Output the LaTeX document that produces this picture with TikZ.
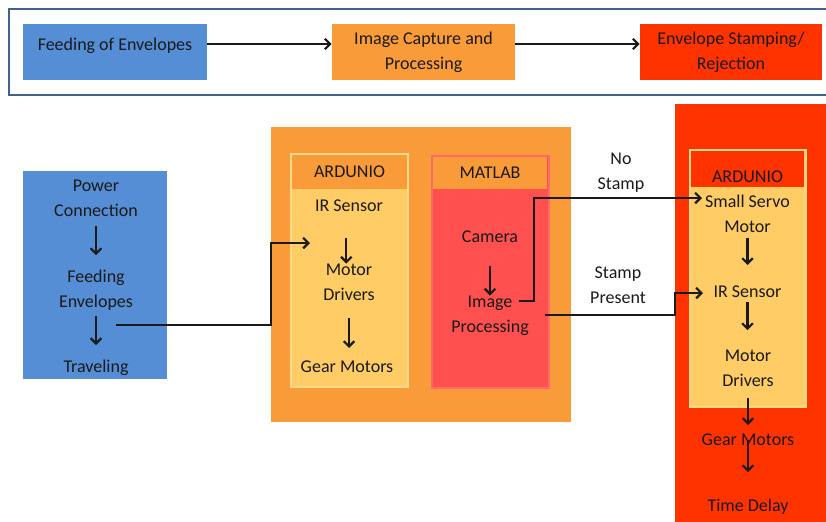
\documentclass[tikz,border=0pt]{standalone}
\usepackage{fontspec}
\setmainfont{Carlito}
\usetikzlibrary{arrows.meta}
\definecolor{cblue}{HTML}{558ED5}
\definecolor{corange}{HTML}{F99B38}
\definecolor{cred}{HTML}{FF3300}
\definecolor{cmat}{HTML}{FF5050}
\definecolor{cmatb}{HTML}{FF6A6A}
\definecolor{cyel}{HTML}{FFCC66}
\definecolor{cyelb}{HTML}{FFD98A}
\definecolor{cframe}{HTML}{44618E}
\definecolor{ctext}{HTML}{1A1A1A}
\begin{document}
\begin{tikzpicture}[x=0.75pt,y=-0.75pt,
  font=\fontsize{13.5}{18.75}\selectfont,
  sz/.style 2 args={minimum width=#1*0.75pt, minimum height=#2*0.75pt},
  box/.style={draw=none, inner sep=0pt, align=center, text=ctext},
  txt/.style={inner sep=0pt, align=center, text=ctext},
  arr/.style={line width=1.6pt, draw=ctext, -{Straight Barb[length=4pt,width=8pt]}}]
\useasboundingbox (0,0) rectangle (826,522);
\clip (0,0) rectangle (826,522);
% top row
\node[draw=cframe, line width=1.5pt, sz={823}{86}] (frame) at (420.5,52) {};
\node[box, fill=cblue, sz={184}{56}, text height=8.7pt, text depth=10.5pt] (f1) at (115,52) {Feeding of Envelopes};
\node[box, fill=corange, sz={183}{56}] (f2) at (423.5,52) {Image Capture and\\Processing};
\node[box, fill=cred, sz={182}{56}] (f3) at (731,52) {Envelope Stamping/\\Rejection};
\draw[arr] ([yshift=6pt]f1.east) -- ([yshift=6pt]f2.west);
\draw[arr] ([yshift=6pt]f2.east) -- ([yshift=6pt]f3.west);
% containers
\node[box, fill=cblue, sz={144}{208}] (blue) at (95,275) {};
\node[box, fill=corange, sz={300}{295}] (big) at (421,274.5) {};
\node[box, fill=cyel, draw=cyelb, line width=1.5pt, sz={117}{233}] (ard1) at (349.5,270.5) {};
\node[box, fill=corange, sz={115}{34}] (h1) at (349.5,172) {ARDUNIO};
\node[box, fill=cmat, draw=cmatb, line width=1.5pt, sz={117}{232}] (mat) at (490,272) {};
\node[box, fill=corange, sz={114}{32}] (h2) at (490,173) {MATLAB};
\node[box, fill=cred, sz={160}{430}] (rr) at (755,319) {};
\node[box, fill=cyel, draw=cyelb, line width=1.5pt, sz={116}{257}] (ard2) at (747.5,278) {};
\node[box, fill=cred, sz={113}{36}, text height=20.7pt, text depth=0pt] (h3) at (747.5,169) {ARDUNIO};
% blue texts
\node[txt] (pc) at (96,198.2) {Power\\Connection};
\node[txt] (fe) at (96,290.1) {Feeding\\Envelopes};
\node[txt] (tr) at (96,367.6) {Traveling};
\draw[arr, shorten <=6.8pt, shorten >=10.9pt] (pc.south) -- (fe.north);
\draw[arr, shorten <=4pt, shorten >=10.9pt] (fe.south) -- (tr.north);
% left arduino
\node[txt] (irs1) at (349,205.7) {IR Sensor};
\node[txt] (md1) at (349,282.2) {Motor\\Drivers};
\node[txt] (gm1) at (347,366.7) {Gear Motors};
\draw[arr, shorten <=19.6pt] ([xshift=-2pt]irs1.south) -- ([xshift=-2pt]md1.north);
\draw[arr, shorten <=12.8pt, shorten >=9.4pt] (md1.south) -- (md1.south |- gm1.north);
% matlab
\node[txt] (cam) at (490,236.7) {Camera};
\node[txt] (imp) at (490,315.6) {Image\\Processing};
\draw[arr, shorten <=17.3pt] (cam.south) -- (imp.north);
% right arduino
\node[txt] (ss) at (747.5,213.7) {Small Servo\\Motor};
\node[txt] (irs2) at (747.5,291.7) {IR Sensor};
\node[txt] (md2) at (748,368.2) {Motor\\Drivers};
\node[txt] (gm2) at (748,439.7) {Gear Motors};
\node[txt] (td) at (748,506.6) {Time Delay};
\draw[arr, shorten <=3.8pt, shorten >=15.4pt] (ss.south) -- (ss.south |- irs2.north);
\draw[arr, shorten <=3.1pt, shorten >=14.6pt] (irs2.south) -- (irs2.south |- md2.north);
\draw[arr, shorten <=8.3pt, shorten >=6.4pt] (md2.south) -- (gm2.north);
\draw[arr, shorten >=19.9pt] (gm2.center) -- (td.north);
% labels
\node[txt] (nsl) at (621,173.1) {No\\Stamp};
\node[txt] (spl) at (618,285.7) {Stamp\\Present};
% connectors
\coordinate (c1) at (116,325);
\coordinate (c2) at (310,243);
\draw[arr] (c1) -- (c1 -| big.west) |- (c2);
\coordinate (ns0) at (519,301);
\coordinate (ns1) at (702,198);
\draw[arr] (ns0) -- ++(15,0) |- (ns1);
\coordinate (sp0) at (545,315);
\coordinate (sp1) at (703,293);
\draw[arr] (sp0) -- (sp0 -| rr.west) |- (sp1);
\end{tikzpicture}
\end{document}
